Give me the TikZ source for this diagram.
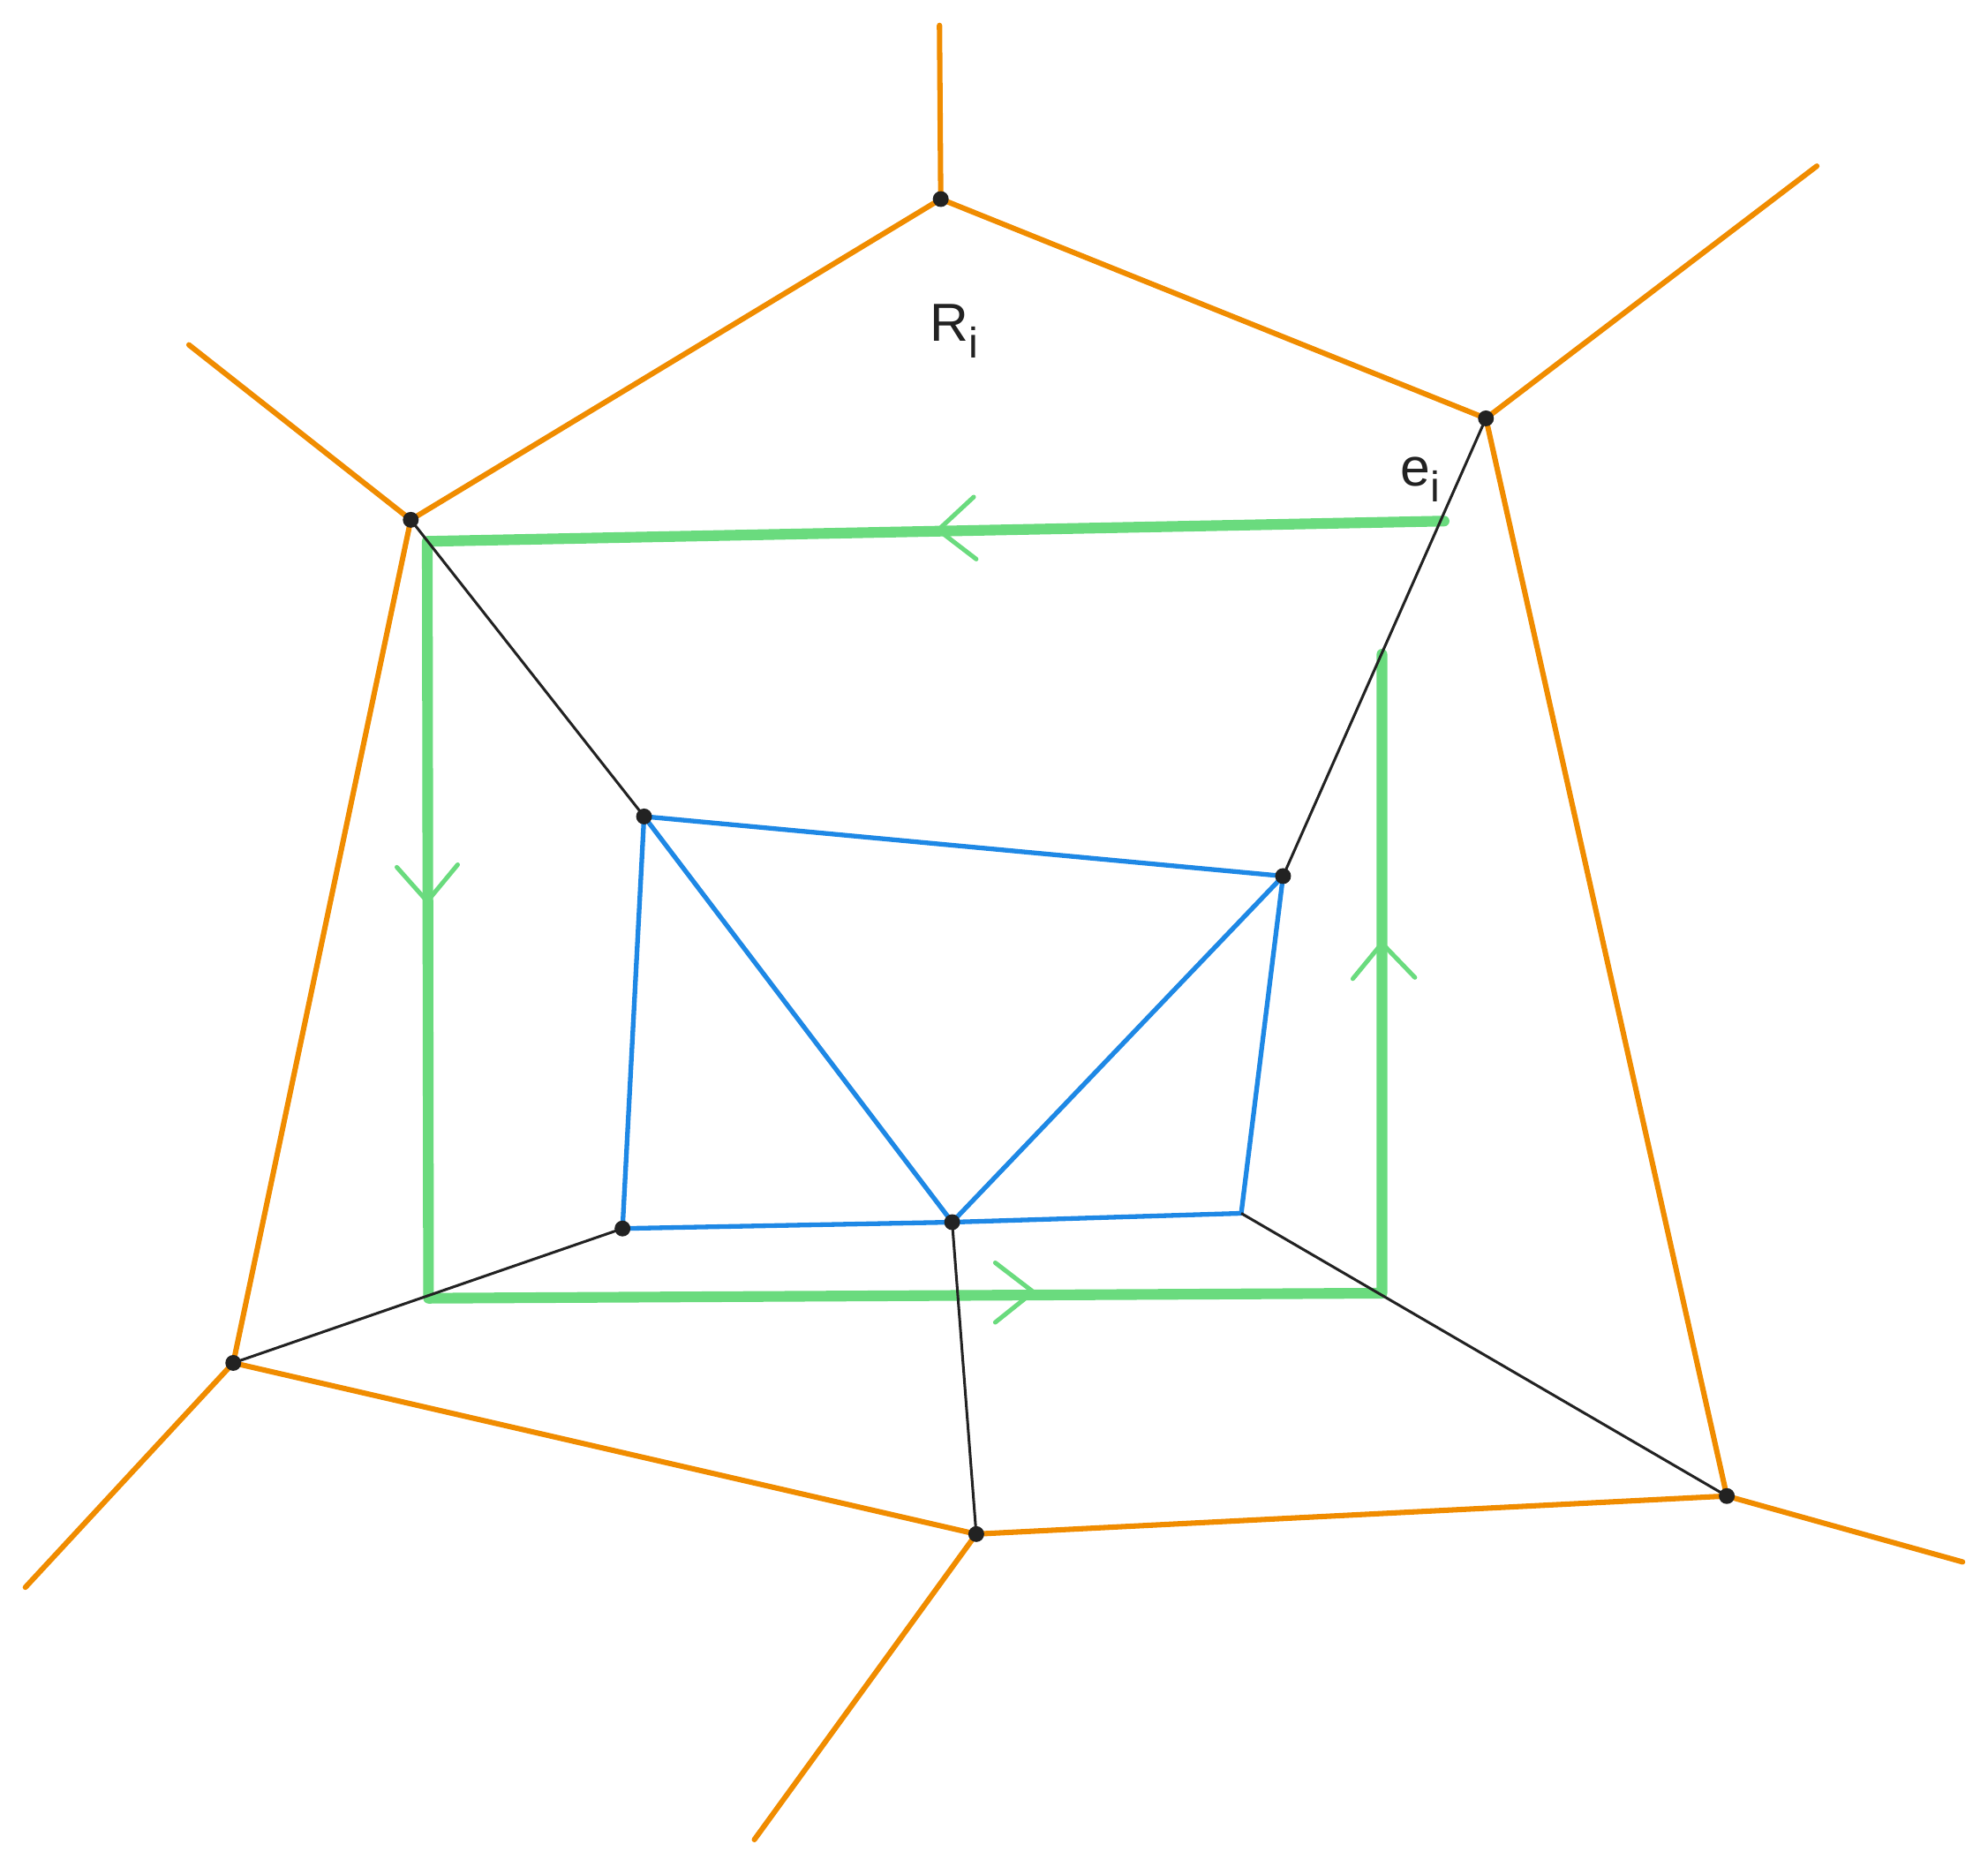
\documentclass[tikz,border=0pt]{standalone}
\usepackage{fontspec}
\setmainfont{Liberation Sans}
\definecolor{edgeorange}{HTML}{F08C00}
\definecolor{innerblue}{HTML}{1E88E5}
\definecolor{loopgreen}{HTML}{6ADB7E}
\definecolor{ink}{HTML}{222222}

\begin{document}
\begin{tikzpicture}[x=0.01cm,y=-0.01cm,
    dot/.style={circle,fill=ink,inner sep=0pt,minimum size=0.125cm},
    outer/.style={edgeorange,line width=1.2pt,line cap=round},
    spoke/.style={ink,line width=0.6pt},
    inner/.style={innerblue,line width=1.05pt,line cap=round},
    cycleline/.style={loopgreen,line width=2.4pt,line cap=round,line join=round},
    chev/.style={loopgreen,line width=1pt,line cap=round},
    lab/.style={ink,anchor=base west,inner sep=0pt,font=\fontsize{12}{14}\selectfont}]
    \useasboundingbox (0,0) rectangle (1568,1472);
    \begin{scope} % Vertices
        \coordinate (vT) at (742,157);
        \coordinate (vTR) at (1172,330);
        \coordinate (vL) at (324,410);
        \coordinate (vBL) at (184,1075);
        \coordinate (vB) at (770,1210);
        \coordinate (vBR) at (1362,1180);
        \coordinate (iA) at (508,644);
        \coordinate (iB) at (1012,691);
        \coordinate (iC) at (491,969);
        \coordinate (iD) at (751,964);
        \coordinate (iE) at (979,957);
        % free ends
        \coordinate (fT) at (741,20);
        \coordinate (fTR) at (1433,131);
        \coordinate (fL) at (149,272);
        \coordinate (fBL) at (20,1252);
        \coordinate (fB) at (595,1451);
        \coordinate (fBR) at (1548,1232);
    \end{scope}
    \begin{scope} % Outer region
        \draw[outer] (vT) -- (vTR) -- (vBR) -- (vB) -- (vBL) -- (vL) -- cycle;
        \draw[outer] (vT) -- (fT);
        \draw[outer] (vTR) -- (fTR);
        \draw[outer] (vL) -- (fL);
        \draw[outer] (vBL) -- (fBL);
        \draw[outer] (vB) -- (fB);
        \draw[outer] (vBR) -- (fBR);
    \end{scope}
    \begin{scope} % Inner graph
        \draw[inner] (iA) -- (iB);
        \draw[inner] (iA) -- (iC);
        \draw[inner] (iA) -- (iD);
        \draw[inner] (iB) -- (iD);
        \draw[inner] (iB) -- (iE);
        \draw[inner] (iC) -- (iD) -- (iE);
    \end{scope}
    \begin{scope} % Cycle with orientation
        \coordinate (g1) at (1139,411);
        \coordinate (g2) at (337,427);
        \coordinate (g3) at (338,1024);
        \coordinate (g4) at (1090,1020);
        \coordinate (g5) at (1090,516);
        \draw[cycleline] (g1) -- (g2) -- (g3) -- (g4) -- (g5);
        \draw[chev] (768,392) -- (740,418) -- (770,441);
        \draw[chev] (313,684) -- (337,711) -- (361,682);
        \draw[chev] (785,996) -- (815,1019) -- (785,1043);
        \draw[chev] (1067,772) -- (1090,744) -- (1116,771);
    \end{scope}
    \begin{scope} % Spokes
        \draw[spoke] (vL) -- (iA);
        \draw[spoke] (vTR) -- (iB);
        \draw[spoke] (vBL) -- (iC);
        \draw[spoke] (vB) -- (iD);
        \draw[spoke] (vBR) -- (iE);
    \end{scope}
    \foreach \v in {vT,vTR,vL,vBL,vB,vBR,iA,iB,iC,iD}
        \node[dot] at (\v) {};
    \node[lab] (regionlabel) at (733,269)
        {R\raisebox{-3.7pt}{\fontsize{9.6}{10}\selectfont i}};
    \node[lab] (edgelabel) at (1104,383)
        {e\raisebox{-3.7pt}{\fontsize{9.6}{10}\selectfont i}};
\end{tikzpicture}
\end{document}
